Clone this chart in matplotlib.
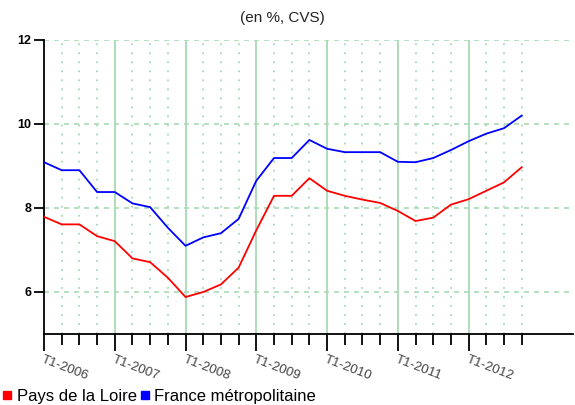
import matplotlib
matplotlib.use("Agg")
import matplotlib.pyplot as plt
from matplotlib.lines import Line2D
import numpy as np

plt.rcParams['font.family'] = ['Liberation Sans', 'DejaVu Sans']

years = ["2006", "2007", "2008", "2009", "2010", "2011", "2012"]
year_labels = ["T1-" + y for y in years]

pays_de_la_loire = [7.79, 7.61, 7.61, 7.33, 7.21, 6.80, 6.71, 6.34,
                    5.88, 6.00, 6.18, 6.58, 7.47, 8.29, 8.29, 8.71,
                    8.41, 8.29, 8.20, 8.12, 7.93, 7.69, 7.77, 8.08,
                    8.21, 8.41, 8.61, 8.97]
france_metro = [9.09, 8.90, 8.90, 8.38, 8.38, 8.11, 8.02, 7.53,
                7.10, 7.30, 7.40, 7.74, 8.65, 9.19, 9.19, 9.62,
                9.41, 9.33, 9.33, 9.33, 9.10, 9.09, 9.19, 9.38,
                9.59, 9.77, 9.90, 10.20]

W, H = 575, 405
fig = plt.figure(figsize=(W / 100, H / 100), dpi=100)
L, R, T, B = 44, 573, 40, 334
ax = fig.add_axes([L / W, (H - B) / H, (R - L) / W, (B - T) / H])

n = len(france_metro)
x = np.arange(n)
ax.set_xlim(0, 29.9)
ax.set_ylim(5, 12)

grid_c = '#a9d9b4'
for yv in [6, 8, 10, 12]:
    ax.axhline(yv, color=grid_c, lw=1.2, ls=(0, (3, 3)), zorder=0)
for i in range(1, n):
    if i % 4 == 0:
        ax.axvline(i, color=grid_c, lw=1.3, ls='-', zorder=0)
    else:
        ax.axvline(i, color=grid_c, lw=1.3, ls=(0, (1, 4)), zorder=0)

ax.plot(x, pays_de_la_loire, color='#ff0000', lw=1.3, zorder=3)
ax.plot(x, france_metro, color='#0000ff', lw=1.3, zorder=3)

ax.spines['top'].set_visible(False)
ax.spines['right'].set_visible(False)
ax.spines['left'].set_linewidth(1.3)
ax.spines['bottom'].set_linewidth(1.3)

ax.set_yticks([6, 8, 10, 12])
ax.set_yticklabels(["6", "8", "10", "12"], fontsize=9, fontweight='bold')
ax.tick_params(axis='y', direction='out', length=7, width=1.3, pad=2)

major = list(range(0, n, 4))
ax.set_xticks(major)
ax.set_xticklabels(year_labels, fontsize=9.5, rotation=-21, ha='left', va='top',
                   rotation_mode='anchor', color='#444444')
ax.set_xticks([i for i in range(n) if i % 4 != 0], minor=True)
ax.tick_params(axis='x', which='major', direction='out', length=12, width=1.3, pad=2)
ax.tick_params(axis='x', which='minor', direction='out', length=8, width=1.3)

fig.text(282 / W, 1 - 18 / H, "(en %, CVS)", ha='center', va='center', fontsize=11,
         color='#222222')

handles = [Line2D([], [], marker='s', color='#ff0000', ls='none', markersize=6),
           Line2D([], [], marker='s', color='#0000ff', ls='none', markersize=6)]
fig.legend(handles, ["Pays de la Loire", "France métropolitaine"], loc='lower left',
           bbox_to_anchor=(-0.022, -0.035), ncol=2, frameon=False, fontsize=12,
           handlelength=0.6, handletextpad=0.25, columnspacing=0.2)

fig.savefig("out.png", dpi=100)
